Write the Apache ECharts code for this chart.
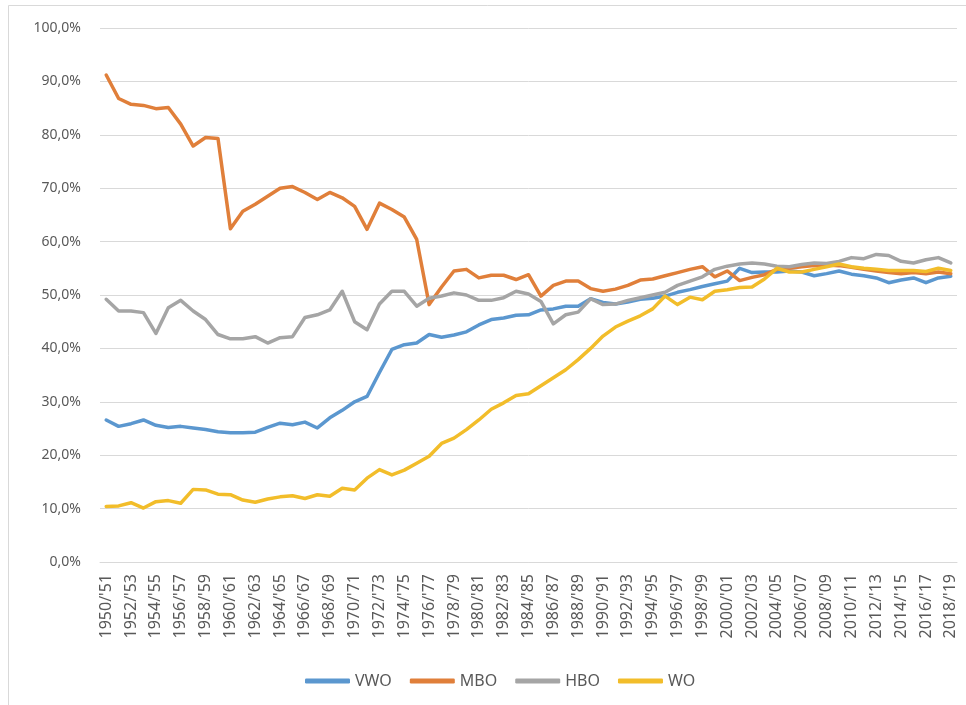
<!DOCTYPE html>
<html>
<head>
<meta charset="utf-8">
<script src="https://cdn.jsdelivr.net/npm/echarts@6/dist/echarts.min.js"></script>
<style>
html,body{margin:0;padding:0;background:#fff;}
#c{width:966px;height:705px;}
</style>
</head>
<body>
<div id="c"></div>
<script>
const categories = [];
for (let y = 1950; y <= 2018; y++) {
  categories.push(y + "/'" + String((y + 1) % 100).padStart(2, '0'));
}
const seriesNames = ['VWO', 'MBO', 'HBO', 'WO'];
const vwo = [26.6,25.4,25.9,26.6,25.6,25.2,25.4,25.1,24.8,24.4,24.2,24.2,24.3,25.2,26.0,25.7,26.2,25.1,27.0,28.4,30.0,31.0,35.5,39.8,40.7,41.0,42.6,42.1,42.5,43.1,44.4,45.4,45.7,46.2,46.3,47.2,47.4,47.9,47.9,49.3,48.6,48.3,48.7,49.2,49.4,49.8,50.5,51.0,51.6,52.1,52.6,55.0,54.2,54.3,54.3,54.5,54.3,53.6,54.0,54.5,53.9,53.6,53.2,52.3,52.8,53.2,52.3,53.2,53.5];
const mbo = [91.2,86.8,85.7,85.5,84.9,85.1,82.0,77.9,79.5,79.3,62.4,65.7,67.0,68.5,70.0,70.3,69.2,67.9,69.2,68.2,66.6,62.3,67.2,66.0,64.6,60.4,48.2,51.5,54.5,54.8,53.2,53.7,53.7,52.9,53.8,49.8,51.8,52.6,52.6,51.2,50.7,51.1,51.8,52.8,53.0,53.6,54.2,54.8,55.3,53.4,54.5,52.7,53.3,53.8,54.8,55.0,55.3,55.5,55.6,55.5,55.2,54.8,54.5,54.2,54.0,54.2,54.0,54.3,54.0];
const hbo = [49.2,47.0,47.0,46.7,42.8,47.6,49.0,47.0,45.4,42.6,41.8,41.8,42.2,41.0,42.0,42.2,45.8,46.3,47.2,50.7,45.0,43.5,48.3,50.7,50.7,47.9,49.4,49.8,50.4,50.0,49.0,49.0,49.5,50.7,50.2,48.8,44.6,46.3,46.8,49.3,48.2,48.3,49.0,49.5,50.0,50.5,51.8,52.6,53.4,54.8,55.4,55.8,56.0,55.8,55.4,55.3,55.7,56.0,55.9,56.3,57.0,56.8,57.6,57.4,56.3,56.0,56.6,57.0,56.0];
const wo = [10.4,10.5,11.1,10.1,11.3,11.5,11.0,13.6,13.5,12.7,12.6,11.6,11.2,11.8,12.2,12.4,11.9,12.6,12.3,13.8,13.5,15.7,17.3,16.3,17.2,18.5,19.8,22.2,23.2,24.8,26.6,28.6,29.8,31.2,31.5,33.0,34.5,36.0,37.9,40.0,42.3,44.0,45.1,46.1,47.4,49.8,48.2,49.6,49.1,50.7,51.0,51.4,51.5,53.0,55.0,54.3,54.3,54.8,55.3,55.8,55.3,55.0,54.8,54.6,54.6,54.6,54.4,55.0,54.6];
const yTicks = { min: 0, max: 100, interval: 10 };
const colors = ['#5b97cf', '#e07f3a', '#a5a5a5', '#f2bd2a'];
const values = [vwo, mbo, hbo, wo];

const chart = echarts.init(document.getElementById('c'), null, { renderer: 'canvas' });
const font = 'Noto Sans';
chart.setOption({
  animation: false,
  backgroundColor: '#ffffff',
  color: colors,
  graphic: [{
    type: 'rect',
    shape: { x: 8.5, y: 5.5, width: 1200, height: 1200 },
    style: { fill: 'none', stroke: '#d9d9d9', lineWidth: 1 },
    silent: true
  }],
  grid: { left: 100, right: 9, top: 28, bottom: 143 },
  legend: {
    data: seriesNames,
    left: 300,
    top: 668,
    icon: 'roundRect',
    itemWidth: 45,
    itemHeight: 5,
    itemGap: 18,
    textStyle: { fontFamily: font, fontSize: 16, color: '#595959' }
  },
  xAxis: {
    type: 'category',
    data: categories,
    boundaryGap: true,
    axisLine: { show: true, lineStyle: { color: '#d9d9d9', width: 1 } },
    axisTick: { show: false },
    axisLabel: {
      interval: 1,
      rotate: 90,
      margin: 12,
      fontFamily: font,
      fontSize: 16,
      color: '#595959'
    },
    splitLine: { show: false }
  },
  yAxis: {
    type: 'value',
    min: yTicks.min,
    max: yTicks.max,
    interval: yTicks.interval,
    axisLine: { show: false },
    axisTick: { show: false },
    axisLabel: {
      margin: 19,
      fontFamily: font,
      fontSize: 14,
      color: '#595959',
      formatter: v => v.toFixed(1).replace('.', ',') + '%'
    },
    splitLine: { lineStyle: { color: '#d9d9d9', width: 1 } }
  },
  series: seriesNames.map((n, i) => ({
    name: n,
    type: 'line',
    data: values[i],
    symbol: 'none',
    smooth: false,
    lineStyle: { width: 3.5, color: colors[i], cap: 'round', join: 'round' },
    itemStyle: { color: colors[i] }
  }))
});
</script>
</body>
</html>
